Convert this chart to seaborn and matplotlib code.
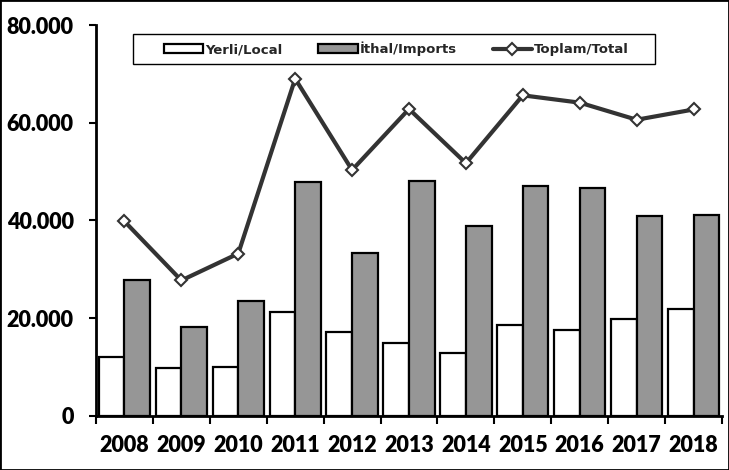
import numpy as np
import pandas as pd
import matplotlib
matplotlib.use("Agg")
import matplotlib.pyplot as plt
from matplotlib.ticker import FuncFormatter, FixedLocator
from matplotlib.patches import Rectangle
import seaborn as sns

years = ["2008", "2009", "2010", "2011", "2012", "2013", "2014", "2015", "2016", "2017", "2018"]
local_vals = [12100, 9700, 9900, 21200, 17100, 14900, 12800, 18600, 17500, 19700, 21800]
import_vals = [27700, 18100, 23400, 47800, 33400, 48100, 38800, 47100, 46600, 40900, 41100]
total_vals = [39800, 27700, 33200, 69000, 50300, 62800, 51700, 65600, 64100, 60600, 62700]
series_names = ["Yerli/Local", "İthal/Imports", "Toplam/Total"]

sns.set_theme(style="white")
plt.rcParams["font.family"] = ["DejaVu Sans"]
plt.rcParams["font.weight"] = "bold"

df = pd.DataFrame({
    "year": years * 2,
    "value": local_vals + import_vals,
    "series": [series_names[0]] * len(years) + [series_names[1]] * len(years),
})

fig = plt.figure(figsize=(7.29, 4.70), dpi=100)
ax = fig.add_axes([96 / 729, 1 - 415.7 / 470, (722 - 96) / 729, (415.7 - 25) / 470])

sns.barplot(data=df, x="year", y="value", hue="series", order=years,
            hue_order=series_names[:2], palette=["white", "#969696"],
            edgecolor="black", linewidth=1.6, width=0.9, saturation=1,
            ax=ax)

pos = np.arange(len(years))
sns.lineplot(x=pos, y=total_vals, color="#333333", linewidth=3.0, marker="D",
             markersize=6.5, markerfacecolor="white", markeredgecolor="#333333",
             markeredgewidth=1.5, ax=ax, label=series_names[2])

ax.set_xlim(-0.5, len(years) - 0.5)
ax.set_ylim(0, 80000)
ax.set_xlabel("")
ax.set_ylabel("")
ax.yaxis.set_major_locator(FixedLocator([0, 20000, 40000, 60000, 80000]))
ax.yaxis.set_major_formatter(FuncFormatter(lambda v, p: f"{int(v):,}".replace(",", ".")))

ax.set_xticks(pos)
ax.set_xticklabels(years)
ax.set_xticks(np.arange(-0.5, len(years)), minor=True)
ax.tick_params(axis="x", which="major", length=0, pad=14)
ax.tick_params(axis="x", which="minor", length=6, width=1.5, color="black", bottom=True)
ax.tick_params(axis="y", which="major", length=5, width=1.5, color="black", left=True, pad=11)
for lab in ax.get_xticklabels() + ax.get_yticklabels():
    lab.set_fontfamily(["Lato", "DejaVu Sans"])
    lab.set_fontweight("heavy")
    lab.set_fontsize(15.5)
    lab.set_color("black")

for s in ["top", "right"]:
    ax.spines[s].set_visible(False)
for s in ["left", "bottom"]:
    ax.spines[s].set_color("black")
    ax.spines[s].set_linewidth(2)

handles, labels = ax.get_legend_handles_labels()
if ax.get_legend() is not None:
    ax.get_legend().remove()
order = [labels.index(n) for n in series_names]
leg = ax.legend([handles[i] for i in order], [labels[i] for i in order], ncol=3,
                loc="center", bbox_to_anchor=(0.480, 0.9386),
                frameon=False, prop={"weight": "bold", "size": 9.5},
                handlelength=3.0, handleheight=0.6, handletextpad=0.15,
                columnspacing=2.7, borderpad=0.0)
ax.add_patch(Rectangle((0.0591, 0.900), 0.8339, 0.0768, transform=ax.transAxes,
                       fill=False, edgecolor="black", linewidth=1.0, zorder=5))

fig.patches.append(Rectangle((0, 0), 1, 1, transform=fig.transFigure, fill=False,
                             edgecolor="black", linewidth=2))

fig.savefig("out.png", dpi=100)
